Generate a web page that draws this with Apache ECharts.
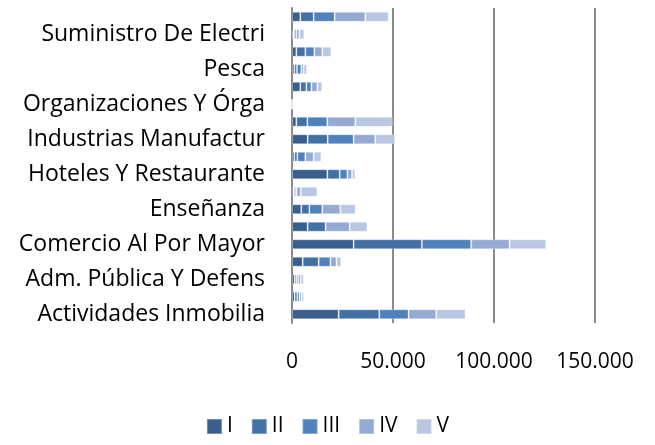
<!DOCTYPE html>
<html>
<head>
<meta charset="utf-8">
<title>Sectores</title>
<script src="https://cdn.jsdelivr.net/npm/echarts@6/dist/echarts.min.js"></script>
<style>
  html, body { margin: 0; padding: 0; background: #fff; }
  #chart { width: 655px; height: 445px; }
</style>
</head>
<body>
<div id="chart"></div>
<script>
// categorías (de abajo hacia arriba, nombres recortados a 21 caracteres)
const categories = [
  'Actividades Inmobilia',
  'Actividades Sin Infor',
  'Adm. Pública Y Defens',
  'Agricultura, Ganaderí',
  'Comercio Al Por Mayor',
  'Construcción',
  'Enseñanza',
  'Explotación De Minas',
  'Hoteles Y Restaurante',
  'Industrias Culturales',
  'Industrias Manufactur',
  'Intermediación Financ',
  'Organizaciones Y Órga',
  'Otras Actividades De',
  'Pesca',
  'Servicios Sociales Y',
  'Suministro De Electri',
  'Transporte, Almacenam'
]

const seriesNames = ['I', 'II', 'III', 'IV', 'V']

const serieI   = [23100, 1300, 1300, 5300, 30500, 7750, 4600,  800, 17500, 1150,  7750,  2150, 0, 4100, 1150, 2150,  600,  4100]
const serieII  = [20100, 1300,  850, 7900, 33800, 8900, 4000,  700,  6100, 1500,  9900,  5450, 0, 3000, 1300, 4450,  500,  6600]
const serieIII = [14500, 1150,  850, 5800, 24400,    0, 6400,  800,  3800, 3950, 12850,  9900, 0, 2500, 2150, 4450, 1000, 10400]
const serieIV  = [13700, 1000, 1300, 3000, 19000, 11900, 8900, 2000,  2300, 4100, 10700, 13850, 0, 3000, 1150, 3950, 1500, 15200]
const serieV   = [14500, 1150, 1500, 2300, 18150, 8750, 7600, 8250,  1650, 3800,  9900, 18500, 0, 2300, 1650, 4470, 2500, 11500]

const xTicks = [0, 50000, 100000, 150000]

const colors = ['#3a5f8f', '#4371a6', '#4f81bd', '#94aad3', '#bac7e2']
const fontFamily = '"Open Sans", Lato, sans-serif'

// separador de miles con punto
const fmt = v => String(v).replace(/\B(?=(\d{3})+(?!\d))/g, '.')

const chart = echarts.init(document.getElementById('chart'))

const allSeries = [serieI, serieII, serieIII, serieIV, serieV]

const option = {
  animation: false,
  color: colors,
  textStyle: { fontFamily: fontFamily },
  grid: {
    left: 292,
    right: 60,
    top: 8,
    bottom: 122
  },
  legend: {
    data: seriesNames,
    bottom: 3,
    left: 'center',
    icon: 'rect',
    itemWidth: 15,
    itemHeight: 15,
    itemGap: 18,
    textStyle: { fontSize: 21, color: '#000', fontFamily: fontFamily }
  },
  xAxis: {
    type: 'value',
    min: xTicks[0],
    max: xTicks[xTicks.length - 1],
    interval: xTicks[1] - xTicks[0],
    axisLine: { show: false },
    axisTick: { show: false },
    axisLabel: {
      margin: 29,
      fontSize: 21,
      color: '#000',
      formatter: v => fmt(v)
    },
    splitLine: { lineStyle: { color: '#8a8a8a', width: 2 } }
  },
  yAxis: {
    type: 'category',
    data: categories,
    axisLine: { show: true, lineStyle: { color: '#8a8a8a', width: 2 } },
    axisTick: { show: false },
    axisLabel: {
      interval: 1,
      margin: 27,
      fontSize: 23,
      color: '#000'
    }
  },
  series: seriesNames.map((name, i) => ({
    name: name,
    type: 'bar',
    stack: 'total',
    barCategoryGap: '43%',
    data: allSeries[i],
    itemStyle: {
      color: colors[i],
      borderColor: 'rgba(255,255,255,0.3)',
      borderWidth: 1
    }
  }))
}

chart.setOption(option)
</script>
</body>
</html>
